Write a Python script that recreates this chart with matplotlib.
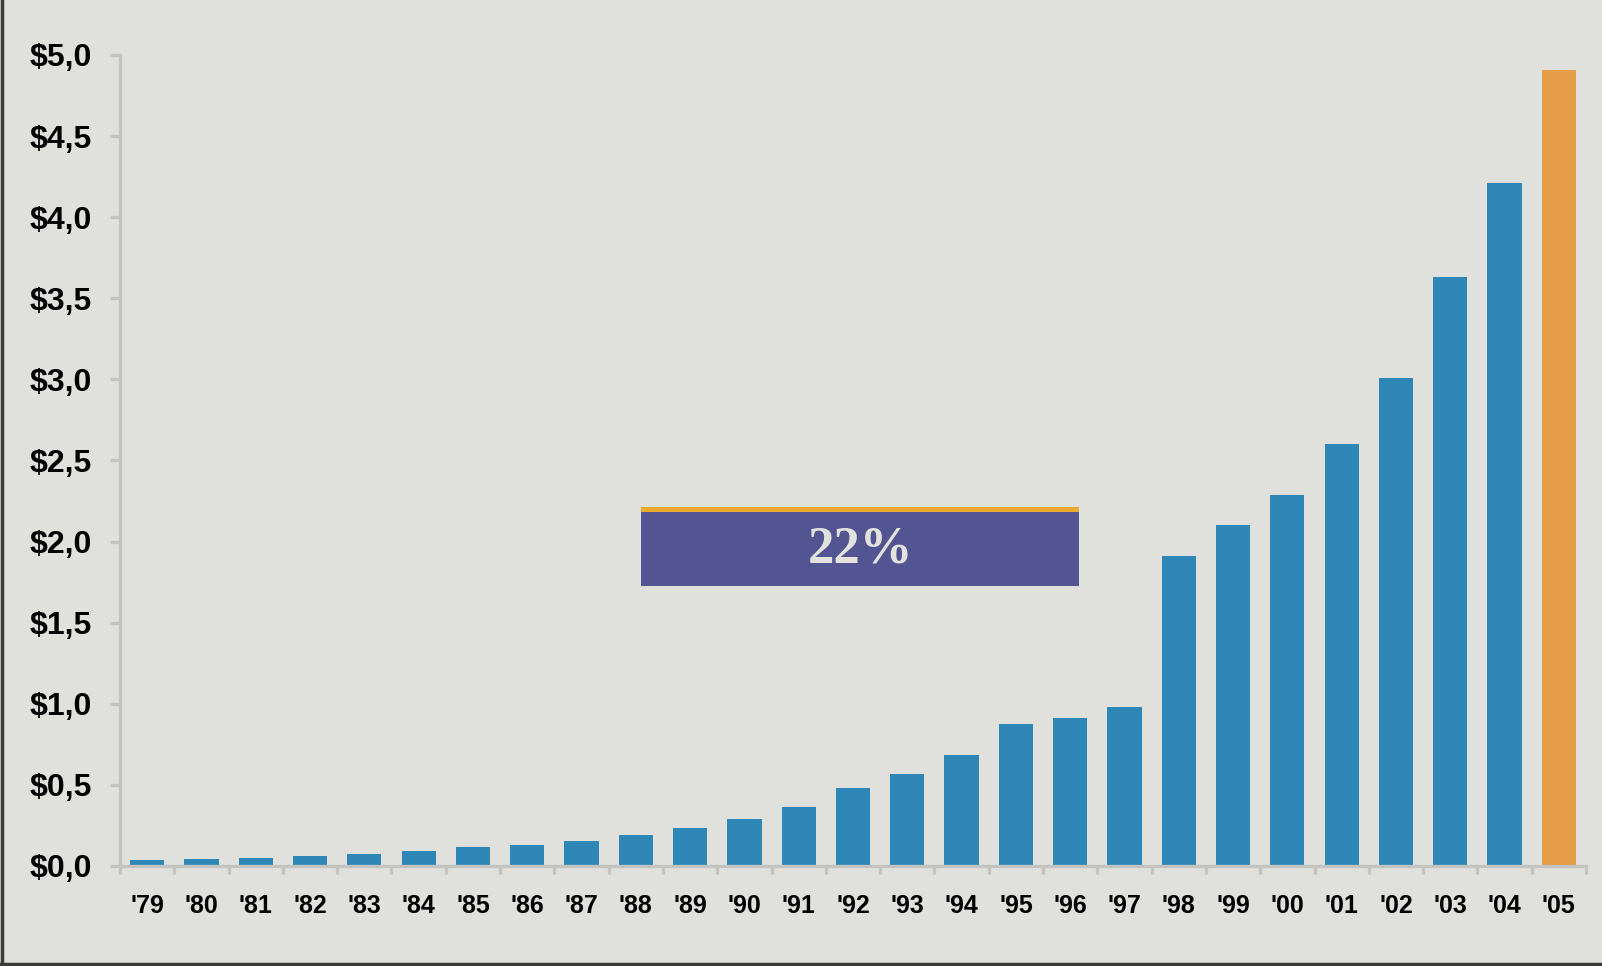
import matplotlib.pyplot as plt
from matplotlib.patches import Rectangle
from matplotlib.lines import Line2D
import numpy as np

## data
years = ["'79", "'80", "'81", "'82", "'83", "'84", "'85", "'86", "'87", "'88",
         "'89", "'90", "'91", "'92", "'93", "'94", "'95", "'96", "'97", "'98",
         "'99", "'00", "'01", "'02", "'03", "'04", "'05"]
values = [0.038, 0.044, 0.05, 0.063, 0.075, 0.094, 0.12, 0.13, 0.157, 0.19,
          0.233, 0.29, 0.365, 0.48, 0.567, 0.686, 0.875, 0.913, 0.98, 1.91,
          2.10, 2.29, 2.60, 3.01, 3.63, 4.21, 4.91]
yticks = [0.0, 0.5, 1.0, 1.5, 2.0, 2.5, 3.0, 3.5, 4.0, 4.5, 5.0]
growth_label = "22%"

bg = "#e0e1dc"
blue = "#2e87b6"
orange = "#e59c46"
grey = "#c3c3c1"

fig = plt.figure(figsize=(16.02, 9.66), dpi=100, facecolor=bg)
ax = fig.add_axes([120/1602, 1 - 866/966, 1466/1602, 811/966])
ax.set_facecolor(bg)

x = np.arange(len(years))
colors = [blue] * (len(years) - 1) + [orange]
ax.bar(x, values, width=0.63, color=colors, edgecolor="none", zorder=2)

ax.set_xlim(-0.5, len(years) - 0.5)
ax.set_ylim(0, 5)

# y axis
ax.set_yticks(yticks)
ax.set_yticklabels(["$" + ("%.1f" % v).replace(".", ",") for v in yticks],
                   fontfamily="Liberation Sans", fontweight="bold", fontsize=23)
ax.tick_params(axis="y", length=7, width=2.4, color=grey, pad=13)

# x axis: labels at centres, ticks between the bars
ax.set_xticks(x)
ax.set_xticklabels(years, fontfamily="Liberation Sans", fontweight="bold", fontsize=18)
ax.tick_params(axis="x", which="major", length=0, pad=20)
ax.set_xticks(np.arange(len(years) + 1) - 0.5, minor=True)
ax.tick_params(axis="x", which="minor", length=6, width=2.4, color=grey)

for s in ["top", "right"]:
    ax.spines[s].set_visible(False)
for s in ["left", "bottom"]:
    ax.spines[s].set_color(grey)
    ax.spines[s].set_linewidth(2.4)

## growth box
ax.add_patch(Rectangle((9.1, 1.726), 8.07, 0.455, facecolor="#535593",
                       edgecolor="none", zorder=3))
ax.add_patch(Rectangle((9.1, 2.181), 8.07, 0.032, facecolor="#eaaa30",
                       edgecolor="none", zorder=3))
ax.text(9.1 + 8.07 / 2, 1.726 + 0.455 / 2, growth_label, ha="center", va="center",
        fontfamily=["Liberation Serif", "DejaVu Serif"], fontweight="bold", fontsize=38,
        color="#e2e2de", zorder=4)

# dark frame on left and bottom edges
fig.add_artist(Line2D([0.001, 0.001], [0, 1], color="#3a3a3a", lw=2.5,
                      transform=fig.transFigure))
fig.add_artist(Line2D([0, 1], [0.002, 0.002], color="#3a3a3a", lw=2.5,
                      transform=fig.transFigure))

fig.savefig("out.png", dpi=100, facecolor=bg)
